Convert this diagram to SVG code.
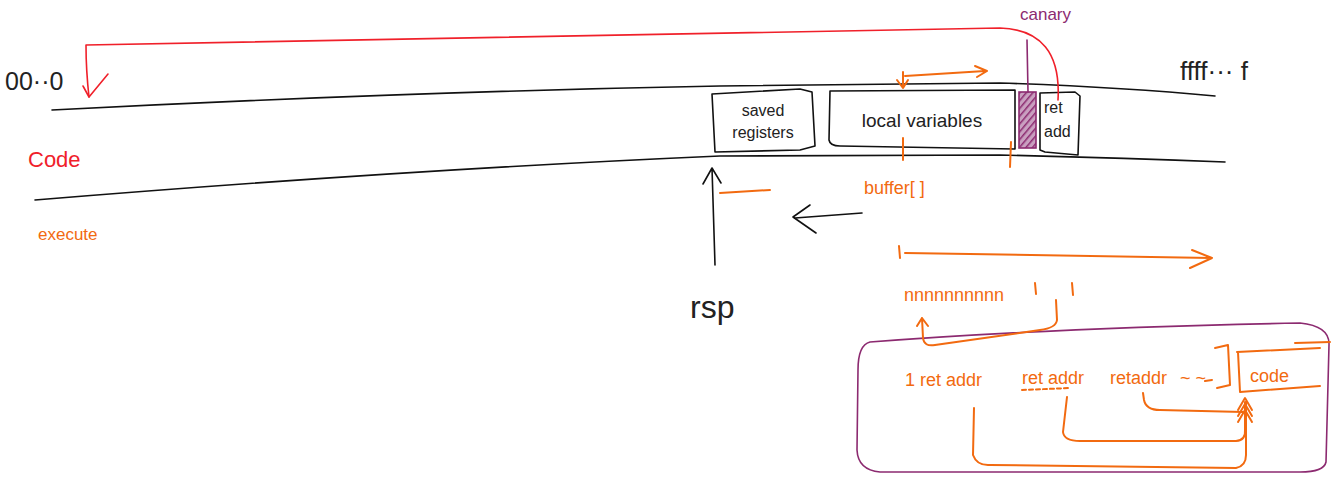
<svg xmlns="http://www.w3.org/2000/svg" width="1333" height="478" viewBox="0 0 1333 478">
<defs>
<style>
.ink{fill:none;stroke:#111;stroke-width:1.6;stroke-linecap:round;stroke-linejoin:round}
.red{fill:none;stroke:#f0202a;stroke-width:1.6;stroke-linecap:round;stroke-linejoin:round}
.org{fill:none;stroke:#f26a10;stroke-width:2;stroke-linecap:round;stroke-linejoin:round}
.pur{fill:none;stroke:#8c2a70;stroke-width:1.6;stroke-linecap:round;stroke-linejoin:round}
text{font-family:"Liberation Sans","DejaVu Sans",sans-serif}
.tb{fill:#222}
.to{fill:#f26a10}
</style>
<pattern id="hatch" width="5" height="5" patternUnits="userSpaceOnUse" patternTransform="rotate(40)">
<rect width="5" height="5" fill="#c9a0c0"/>
<line x1="0" y1="0" x2="0" y2="5" stroke="#8c2a70" stroke-width="3"/>
</pattern>
</defs>
<rect width="1333" height="478" fill="#fff"/>

<g id="memory-band">
<path class="ink" d="M52,110 Q400,92 720,86 L1000,83 Q1120,87 1215,96"/>
<path class="ink" d="M35,200 Q400,170 720,156 L1000,155 Q1120,158 1225,162"/>
</g>

<g id="labels-left">
<text class="tb" x="5" y="90" font-size="25">00··0</text>
<text x="28" y="167" fill="#f0202a" font-size="22">Code</text>
<text x="38" y="240" fill="#f26a10" font-size="17">execute</text>
<text class="tb" x="1180" y="80" font-size="26">ffff··· f</text>
</g>

<g id="saved-registers">
<path class="ink" d="M712,94 L800,89 L812,92 L815,146 L800,150 L715,152 Z"/>
<text class="tb" x="763" y="116" text-anchor="middle" font-size="16">saved</text>
<text class="tb" x="763" y="138" text-anchor="middle" font-size="16">registers</text>
</g>

<g id="local-variables">
<path class="ink" d="M830,91 L1015,90 L1015,149 L840,146 Q830,146 829,140 Z"/>
<text class="tb" x="922" y="127" text-anchor="middle" font-size="19">local  variables</text>
</g>

<g id="canary">
<rect x="1019" y="92" width="17" height="56" fill="url(#hatch)" stroke="#8c2a70" stroke-width="1.6"/>
<path class="pur" d="M1027,40 L1028,92"/>
<text x="1020" y="20" fill="#8c2a70" font-size="17">canary</text>
</g>

<g id="ret-add">
<path class="ink" d="M1040,93 L1075,92 L1080,96 L1078,155 L1045,152 L1040,150 Z"/>
<text class="tb" x="1044" y="113" font-size="16">ret</text>
<text class="tb" x="1044" y="137" font-size="16">add</text>
</g>

<g id="rsp">
<text class="tb" x="690" y="318" font-size="32">rsp</text>
</g>

<g id="buffer-label">
<text class="to" x="864" y="194" font-size="18">buffer[ ]</text>
</g>

<g id="overflow-row">
<text class="to" x="904" y="301" font-size="18">nnnnnnnnnn</text>
<path class="org" d="M1035,283 L1036,294 M1072,283 L1073,295"/>
</g>

<g id="payload">
<path class="pur" d="M870,342 Q1050,328 1300,323 Q1330,326 1329,345 L1326,462 Q1324,472 1300,472 L880,472 Q858,470 857,450 L858,370 Q858,345 870,342 Z"/>
<text class="to" x="905" y="386" font-size="18">1 ret addr</text>
<text class="to" x="1022" y="384" font-size="18">ret addr</text>
<text class="to" x="1110" y="384" font-size="18">retaddr</text>
<text class="to" x="1180" y="384" font-size="18">~ ~</text>
<path class="org" d="M1022,390 L1070,388" stroke-dasharray="4 3" stroke-width="1.2"/>
<path class="org" d="M1205,381 L1212,380" stroke-width="1.6"/>
<path class="org" d="M1215,348 L1228,345 L1230,385 L1217,388" stroke-width="1.6"/>
<path class="org" d="M1237,352 L1320,348 M1240,392 L1320,386 M1238,352 L1240,392 M1295,343 L1330,342" stroke-width="1.6"/>
<text class="to" x="1250" y="382" font-size="18">code</text>
</g>

<g id="connectors">
<!-- red return-address jump -->
<path class="red" d="M1058,100 Q1062,30 1000,28 L86,45 Q86,70 89,97"/>
<path class="red" d="M83,86 L89,97 L108,74"/>
<!-- orange arrow above local vars -->
<path class="org" d="M903,72 L903,88 M897,80 L903,88 L908,80"/>
<path class="org" d="M905,76 L985,71 M975,66 L987,71 L977,77"/>
<!-- orange ticks -->
<path class="org" d="M903,138 L903,160 M1011,142 L1010,167"/>
<!-- short orange line -->
<path class="org" d="M720,193 L770,190"/>
<!-- black left arrow -->
<path class="ink" d="M862,213 L795,218 M810,205 L793,217 L816,233"/>
<!-- rsp arrow -->
<path class="ink" d="M715,265 L712,168 M703,184 L712,168 L721,183"/>
<!-- long orange arrow -->
<path class="org" d="M899,246 L900,258 M905,253 L1212,258 M1192,250 L1212,258 L1190,268"/>
<!-- bracket arrow back to start -->
<path class="org" d="M1056,300 L1057,320 Q1056,328 1040,330 L935,345 Q924,347 923,338 L922,318 M917,326 L922,318 L928,326"/>
<!-- payload addresses to code -->
<path class="org" d="M1143,393 L1144,400 Q1146,410 1160,410 L1243,412" stroke-width="1.6"/>
<path class="org" d="M1067,397 L1063,432 Q1064,441 1080,441 L1236,441 Q1246,440 1245,430 L1245,402" stroke-width="1.6"/>
<path class="org" d="M974,408 L973,455 Q977,466 990,465 L1236,468 Q1246,466 1246,455 L1246,402" stroke-width="1.6"/>
<path class="org" d="M1238,410 L1245,398 L1252,410 M1238,416 L1245,404 L1252,416 M1238,422 L1245,410 L1252,422" stroke-width="1.4"/>
</g>
</svg>
